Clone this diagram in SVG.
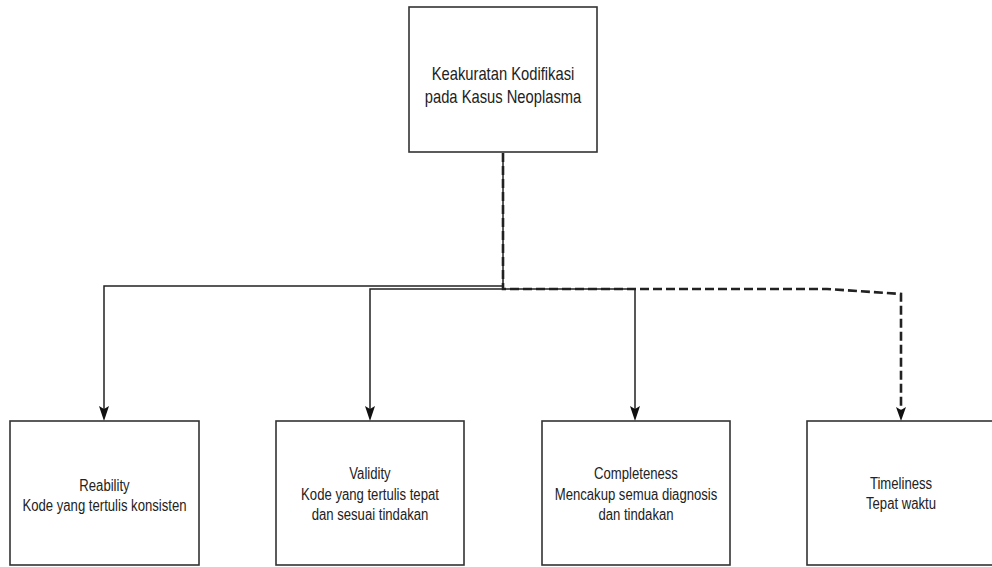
<svg xmlns="http://www.w3.org/2000/svg" width="992" height="567" viewBox="0 0 992 567">
<style>
.box{fill:#fff;stroke:#333;stroke-width:1.6}
.t{font-family:"Liberation Sans",Arial,sans-serif;fill:#222;text-anchor:middle}
.big{font-size:18px}
.sm{font-size:16px}
.ln{fill:none;stroke:#222;stroke-width:1.5}
.dash{fill:none;stroke:#222;stroke-width:2.6;stroke-dasharray:9 4}
</style>
<defs>
<marker id="ah" viewBox="0 0 10 12" refX="5" refY="12" markerWidth="10" markerHeight="12" markerUnits="userSpaceOnUse" orient="auto-start-reverse">
<path d="M0,0 L5,3 L10,0 L5,12 Z" fill="#111"/>
</marker>
</defs>
<rect width="992" height="567" fill="#fff"/>
<g id="connectors">
<path class="dash" d="M503,153 L503,289 L827,289 L901,294 L901,410"/>
<path d="M896,407 L901,410 L906,407 L901,421 Z" fill="#111"/>
<path class="ln" d="M503,153 L503,286 L104,286 L104,409"/>
<path d="M99,406 L104,409 L109,406 L104,421 Z" fill="#111"/>
<path class="ln" d="M503,289 L370,289 L370,409"/>
<path d="M365,406 L370,409 L375,406 L370,421 Z" fill="#111"/>
<path class="ln" d="M503,289 L635,289 L635,409"/>
<path d="M630,406 L635,409 L640,406 L635,421 Z" fill="#111"/>
</g>
<g id="top">
<rect class="box" x="409" y="7" width="188" height="145"/>
<text class="t big" transform="translate(503,80) scale(0.82,1)">Keakuratan Kodifikasi</text>
<text class="t big" transform="translate(503,102.5) scale(0.82,1)">pada Kasus Neoplasma</text>
</g>
<g id="reability">
<rect class="box" x="10" y="421" width="189" height="144"/>
<text class="t sm" transform="translate(104.5,491) scale(0.82,1)">Reability</text>
<text class="t sm" transform="translate(104.5,511) scale(0.82,1)">Kode yang tertulis konsisten</text>
</g>
<g id="validity">
<rect class="box" x="276" y="421" width="188" height="144"/>
<text class="t sm" transform="translate(370,479) scale(0.82,1)">Validity</text>
<text class="t sm" transform="translate(370,500) scale(0.82,1)">Kode yang tertulis tepat</text>
<text class="t sm" transform="translate(370,520) scale(0.82,1)">dan sesuai tindakan</text>
</g>
<g id="completeness">
<rect class="box" x="542" y="421" width="188" height="144"/>
<text class="t sm" transform="translate(636,479) scale(0.82,1)">Completeness</text>
<text class="t sm" transform="translate(636,500) scale(0.82,1)">Mencakup semua diagnosis</text>
<text class="t sm" transform="translate(636,520) scale(0.82,1)">dan tindakan</text>
</g>
<g id="timeliness">
<rect class="box" x="807" y="421" width="188" height="144"/>
<text class="t sm" transform="translate(901,489) scale(0.82,1)">Timeliness</text>
<text class="t sm" transform="translate(901,509) scale(0.82,1)">Tepat waktu</text>
</g>
</svg>
